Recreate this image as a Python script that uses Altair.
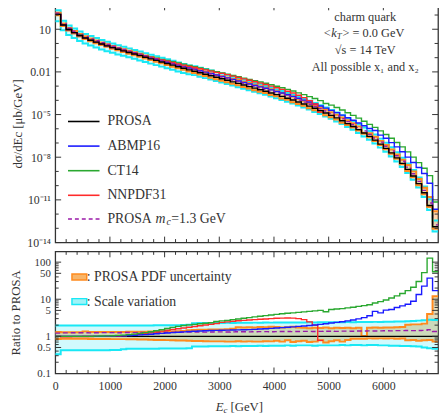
import altair as alt
import pandas as pd

FONT = "Liberation Serif"
TXT = "#333333"

# ---------------- data (100 GeV bins from 0 to 7000 GeV) ----------------
edges = list(range(0, 7001, 100))

# PROSA central dsigma/dE_c [mub/GeV], one value per bin
prosa = [112, 20, 9.5, 5.8, 3.6, 2.4, 1.7, 1.23, 0.91, 0.68,
         0.51, 0.39, 0.30, 0.23, 0.18, 0.14, 0.107, 0.083, 0.065, 0.050,
         0.039, 0.030, 0.023, 0.018, 0.014, 0.0112, 8.7e-3, 6.9e-3, 5.4e-3, 4.2e-3,
         3.3e-3, 2.6e-3, 2.0e-3, 1.55e-3, 1.2e-3, 9.3e-4, 7.2e-4, 5.6e-4, 4.4e-4, 3.3e-4,
         2.5e-4, 1.9e-4, 1.4e-4, 1.05e-4, 7.6e-5, 5.5e-5, 3.9e-5, 2.75e-5, 1.9e-5, 1.3e-5,
         8.7e-6, 5.8e-6, 3.7e-6, 2.3e-6, 1.45e-6, 8.7e-7, 5.1e-7, 2.9e-7, 1.6e-7, 8.3e-8,
         4.2e-8, 2.0e-8, 8.9e-9, 3.7e-9, 1.4e-9, 4.8e-10, 1.4e-10, 3.2e-11, 4.0e-12, 1.3e-13]

# ratios to PROSA, per bin
r_prosa = [1.0] * 70
r_abmp = [1.0, 1.0, 1.0, 1.0, 1.0, 1.0, 1.0, 1.0, 1.0, 1.01,
          1.02, 1.03, 1.04, 1.05, 1.07, 1.09, 1.11, 1.14, 1.17, 1.2,
          1.23, 1.26, 1.29, 1.32, 1.35, 1.37, 1.39, 1.41, 1.43, 1.45,
          1.46, 1.47, 1.48, 1.49, 1.5, 1.52, 1.54, 1.57, 1.6, 1.64,
          1.68, 1.72, 1.76, 1.8, 1.85, 1.9, 1.96, 2.02, 2.1, 2.18,
          2.28, 2.38, 2.48, 2.6, 2.75, 2.95, 3.2, 3.6, 4.7, 4.3,
          5.1, 5.3, 6.0, 6.6, 7.3, 8.8, 13.4, 22.5, 37, 17]
r_ct14 = [1.0, 1.0, 1.0, 1.0, 1.0, 1.0, 1.0, 1.01, 1.02, 1.03,
          1.04, 1.06, 1.08, 1.11, 1.15, 1.2, 1.26, 1.33, 1.41, 1.5,
          1.62, 1.74, 1.86, 1.95, 2.03, 2.1, 2.18, 2.26, 2.34, 2.5,
          2.6, 2.7, 2.82, 2.94, 3.06, 3.2, 3.34, 3.48, 3.62, 3.76,
          3.9, 4.05, 4.18, 4.3, 4.42, 4.55, 4.7, 4.85, 5.0, 4.6,
          5.3, 5.45, 5.6, 5.85, 6.1, 6.4, 6.7, 7.1, 7.9, 8.6,
          9.5, 10.8, 12.3, 14.3, 17, 21, 30, 52, 128, 55]
r_nnpdf = [1.0, 0.97, 0.97, 0.98, 0.98, 0.99, 0.99, 1.0, 1.0, 1.0,
           1.01, 1.02, 1.04, 1.06, 1.09, 1.13, 1.18, 1.24, 1.31, 1.38,
           1.46, 1.53, 1.6, 1.68, 1.76, 1.84, 1.93, 2.02, 2.12, 2.22,
           2.38, 2.46, 2.54, 2.62, 2.7, 2.76, 2.82, 2.88, 2.94, 3.0,
           3.06, 3.1, 3.12, 3.1, 3.0, 2.82, 2.45, 2.0, 0.78]
r_mc13 = [1.22, 1.24, 1.24, 1.25, 1.25, 1.25, 1.24, 1.25, 1.26, 1.26,
          1.26, 1.25, 1.27, 1.27, 1.26, 1.28, 1.28, 1.27, 1.29, 1.29,
          1.29, 1.3, 1.3, 1.29, 1.3, 1.31, 1.31, 1.3, 1.31, 1.32,
          1.32, 1.31, 1.32, 1.33, 1.33, 1.32, 1.33, 1.34, 1.34, 1.33,
          1.34, 1.35, 1.35, 1.34, 1.35, 1.36, 1.36, 1.35, 1.36, 1.37,
          1.37, 1.36, 1.38, 1.38, 1.37, 1.39, 1.39, 1.4, 1.39, 1.4,
          1.41, 1.4, 1.42, 1.42, 1.43, 1.42, 1.44, 1.45, 1.5, 1.35]
pdf_hi = [1.3, 1.28, 1.28, 1.28, 1.28, 1.36, 1.3, 1.3, 1.3, 1.3,
          1.3, 1.31, 1.31, 1.32, 1.32, 1.33, 1.33, 1.34, 1.34, 1.35,
          1.35, 1.36, 1.37, 1.4, 1.45, 1.48, 1.5, 1.5, 1.52, 1.52,
          1.52, 1.55, 1.6, 1.75, 1.72, 1.76, 1.74, 1.78, 1.76, 1.8,
          1.78, 1.74, 1.76, 1.8, 1.72, 1.7, 1.66, 1.7, 1.68, 1.72,
          1.66, 1.7, 1.68, 1.7, 1.66, 1.7, 1.02, 1.7, 1.72, 1.7,
          1.74, 1.72, 1.76, 1.78, 2.05, 2.1, 2.1, 2.2, 4.0, 12.0]
pdf_lo = [0.85, 0.86, 0.86, 0.86, 0.86, 0.86, 0.85, 0.85, 0.85, 0.85,
          0.84, 0.84, 0.84, 0.83, 0.83, 0.82, 0.82, 0.81, 0.8, 0.8,
          0.79, 0.78, 0.77, 0.77, 0.76, 0.75, 0.75, 0.74, 0.73, 0.73,
          0.73, 0.72, 0.72, 0.74, 0.72, 0.73, 0.72, 0.72, 0.74, 0.73,
          0.76, 0.72, 0.78, 0.7, 0.74, 0.76, 0.7, 0.72, 0.78, 0.68,
          0.74, 0.78, 0.72, 0.8, 0.86, 0.86, 0.86, 0.88, 0.87, 0.88,
          0.87, 0.88, 0.86, 0.87, 0.78, 0.8, 0.76, 0.78, 0.8, 0.72]
scale_hi = [1.95, 1.95, 1.95, 1.95, 1.95, 1.96, 1.95, 1.95, 1.96, 1.95,
            1.95, 1.96, 1.95, 1.96, 1.96, 1.97, 1.96, 1.97, 1.98, 1.98,
            1.98, 2.0, 2.0, 2.02, 2.05, 2.25, 2.28, 2.28, 2.3, 2.3,
            2.3, 2.32, 2.3, 2.32, 2.33, 2.32, 2.34, 2.33, 2.35, 2.34,
            2.35, 2.36, 2.35, 2.36, 2.37, 2.36, 2.38, 2.37, 2.38, 2.4,
            2.38, 2.4, 2.4, 2.42, 2.4, 2.42, 2.44, 2.42, 2.45, 2.44,
            2.46, 2.48, 2.5, 2.52, 2.55, 2.6, 2.65, 2.7, 2.8, 2.75]
scale_lo = [0.33, 0.42, 0.42, 0.42, 0.42, 0.42, 0.42, 0.42, 0.42, 0.42,
            0.43, 0.43, 0.45, 0.46, 0.46, 0.46, 0.46, 0.46, 0.46, 0.47,
            0.47, 0.47, 0.47, 0.47, 0.48, 0.53, 0.53, 0.53, 0.54, 0.54,
            0.54, 0.54, 0.55, 0.54, 0.55, 0.55, 0.55, 0.56, 0.55, 0.56,
            0.56, 0.56, 0.57, 0.56, 0.57, 0.57, 0.57, 0.56, 0.57, 0.57,
            0.57, 0.57, 0.58, 0.57, 0.58, 0.58, 0.57, 0.58, 0.58, 0.57,
            0.57, 0.56, 0.56, 0.55, 0.55, 0.54, 0.53, 0.5, 0.48, 0.46]

# axis tick values
x_major = [1000, 2000, 3000, 4000, 5000, 6000]
x_minor = [v for v in range(200, 7000, 200) if v % 1000 != 0]
x_labels = [0, 1000, 2000, 3000, 4000, 5000, 6000]
y1_major = [1e-14, 1e-11, 1e-8, 1e-5, 0.01, 10]
y1_minor = [1e-13, 1e-12, 1e-10, 1e-9, 1e-7, 1e-6, 1e-4, 1e-3, 0.1, 1, 100]
y2_major = [0.5, 1, 5, 10, 50, 100]
y2_minor = [0.2, 0.3, 0.4, 0.6, 0.7, 0.8, 0.9, 2, 3, 4, 6, 7, 8, 9,
            20, 30, 40, 60, 70, 80, 90]

# ---------------- helpers ----------------
def step_line(vals, base=None):
    n = len(vals)
    rows = []
    for i in range(n + 1):
        j = min(i, n - 1)
        v = vals[j] * (base[j] if base else 1.0)
        rows.append({"E": edges[i], "v": v})
    return pd.DataFrame(rows)


def step_band(lo, hi, base=None):
    n = len(lo)
    rows = []
    for i in range(n + 1):
        j = min(i, n - 1)
        b = base[j] if base else 1.0
        rows.append({"E": edges[i], "lo": lo[j] * b, "hi": hi[j] * b})
    return pd.DataFrame(rows)


W, H1, H2 = 389, 242, 124
xsc = alt.Scale(domain=[0, 7000], nice=False, zero=False)
ysc1 = alt.Scale(type="log", domain=[1e-14, 560], nice=False)
ysc2 = alt.Scale(type="log", domain=[0.1, 195], nice=False)

ax_y1 = alt.Axis(values=y1_major, ticks=False, tickSize=0, domain=False, grid=False,
                 labelExpr="datum.value > 1 ? '10' : datum.value > 0.001 ? '0.01' : "
                           "datum.value > 1e-6 ? '10⁻⁵' : datum.value > 1e-9 ? '10⁻⁸' : "
                           "datum.value > 1e-12 ? '10⁻¹¹' : '10⁻¹⁴'",
                 labelPadding=5, labelFontSize=12, labelOverlap=False,
                 title="dσ/dEc [μb/GeV]", titleFontSize=13, titleFontWeight="normal",
                 titlePadding=2)
ax_y2 = alt.Axis(values=[0.1] + y2_major, ticks=False, tickSize=0, domain=False, grid=False,
                 labelExpr="datum.value < 1 ? format(datum.value, '.1f') : format(datum.value, 'd')",
                 labelPadding=5, labelFontSize=11, labelOverlap=False,
                 title="Ratio to PROSA", titleFontSize=13, titleFontWeight="normal",
                 titlePadding=12)
ax_x2 = alt.Axis(values=x_labels, format="d", ticks=False, tickSize=0, domain=False, grid=False,
                 labelPadding=7, labelFontSize=12, labelFlush=False, title="")


def X(f, axis=None):
    return alt.X(f"{f}:Q", scale=xsc, axis=axis)


one = pd.DataFrame({"d": [0]})


def txt(text, x, y, size=14, style="normal", align="left"):
    return alt.Chart(one).mark_text(text=text, align=align, baseline="middle", font=FONT,
                                    fontSize=size, fontStyle=style, color=TXT).encode(
        x=alt.value(x), y=alt.value(y))


def ticks(xscale_axis, yenc_fn, H, ymaj, ymin):
    out = []
    for vals, L in ((x_major, 6), (x_minor, 3.5)):
        df = pd.DataFrame({"t": vals})
        out.append(alt.Chart(df).mark_rule(color=TXT, strokeWidth=1).encode(
            x=X("t", xscale_axis), y=alt.value(H), y2=alt.value(H - L)))
        out.append(alt.Chart(df).mark_rule(color=TXT, strokeWidth=1).encode(
            x=X("t", xscale_axis), y=alt.value(0), y2=alt.value(L)))
    for vals, L in ((ymaj, 6), (ymin, 3.5)):
        df = pd.DataFrame({"t": vals})
        out.append(alt.Chart(df).mark_rule(color=TXT, strokeWidth=1).encode(
            y=yenc_fn("t"), x=alt.value(0), x2=alt.value(L)))
        out.append(alt.Chart(df).mark_rule(color=TXT, strokeWidth=1).encode(
            y=yenc_fn("t"), x=alt.value(W), x2=alt.value(W - L)))
    return out


CYAN = "#19e8f5"
ORANGE = "#ff8a1e"
COLORS = {"PROSA": "#000000", "ABMP16": "#1a1aff", "CT14": "#2aa830",
          "NNPDF31": "#ff2a2a", "mc": "#9a1aa8"}

# ---------------- top panel ----------------
def Y1(f):
    return alt.Y(f"{f}:Q", scale=ysc1, axis=ax_y1)


top_layers = []
cb = step_band(scale_lo, scale_hi, prosa)
ob = step_band(pdf_lo, pdf_hi, prosa)
top_layers.append(alt.Chart(cb).mark_area(interpolate="step-after", color=CYAN, opacity=0.18, clip=True)
                  .encode(x=X("E"), y=Y1("lo"), y2="hi"))
top_layers.append(alt.Chart(ob).mark_area(interpolate="step-after", color=ORANGE, opacity=0.35, clip=True)
                  .encode(x=X("E"), y=Y1("lo"), y2="hi"))
for f in ("lo", "hi"):
    top_layers.append(alt.Chart(cb).mark_line(interpolate="step-after", color=CYAN, strokeWidth=2, clip=True)
                      .encode(x=X("E"), y=Y1(f)))
for f in ("lo", "hi"):
    top_layers.append(alt.Chart(ob).mark_line(interpolate="step-after", color=ORANGE, strokeWidth=2, clip=True)
                      .encode(x=X("E"), y=Y1(f)))
for vals, c, dash in ((r_ct14, "CT14", None), (r_abmp, "ABMP16", None), (r_nnpdf, "NNPDF31", None),
                      (r_mc13, "mc", [4, 3]), (r_prosa, "PROSA", None)):
    kw = dict(interpolate="step-after", color=COLORS[c], strokeWidth=1.4, clip=True)
    if dash:
        kw["strokeDash"] = dash
    top_layers.append(alt.Chart(step_line(vals, prosa)).mark_line(**kw)
                      .encode(x=X("E"), y=Y1("v")))

top_layers += ticks(None, Y1, H1, y1_major, y1_minor)

# legend (top panel)
leg = [("PROSA", "PROSA", None), ("ABMP16", "ABMP16", None), ("CT14", "CT14", None),
       ("NNPDF31", "NNPDF31", None), ("PROSA", "mc", [4, 3])]
leg_y = [119, 144, 169, 194, 218]
for (lab, c, dash), yy in zip(leg, leg_y):
    kw = dict(color=COLORS[c], strokeWidth=1.6)
    if dash:
        kw["strokeDash"] = dash
    top_layers.append(alt.Chart(one).mark_rule(**kw).encode(
        x=alt.value(13), x2=alt.value(45), y=alt.value(yy)))
    top_layers.append(txt(lab, 53, yy))
yy = leg_y[-1]
top_layers.append(txt("m", 102, yy, style="italic"))
top_layers.append(txt("c", 113, yy + 3, size=10, style="italic"))
top_layers.append(txt("=1.3 GeV", 118, yy))

# annotation (top right)
for t, yy in (("charm quark", 13), ("√s  = 14 TeV", 46), ("All possible x₁ and x₂", 64)):
    top_layers.append(txt(t, 315, yy, size=12.5, align="center"))
top_layers.append(txt("<k", 272, 29, size=12.5, style="italic"))
top_layers.append(txt("T", 286, 32, size=9, style="italic"))
top_layers.append(txt(">  = 0.0 GeV", 292, 29, size=12.5))

top = alt.layer(*top_layers).properties(width=W, height=H1)

# ---------------- bottom panel ----------------
def Y2(f):
    return alt.Y(f"{f}:Q", scale=ysc2, axis=ax_y2)


def X2(f):
    return X(f, ax_x2)


bot_layers = []
cb2 = step_band(scale_lo, scale_hi)
ob2 = step_band(pdf_lo, pdf_hi)
bot_layers.append(alt.Chart(cb2).mark_area(interpolate="step-after", color=CYAN, opacity=0.2, clip=True)
                  .encode(x=X2("E"), y=Y2("lo"), y2="hi"))
bot_layers.append(alt.Chart(ob2).mark_area(interpolate="step-after", color="#c8b878", opacity=0.5, clip=True)
                  .encode(x=X2("E"), y=Y2("lo"), y2="hi"))
for f in ("lo", "hi"):
    bot_layers.append(alt.Chart(cb2).mark_line(interpolate="step-after", color=CYAN, strokeWidth=2, clip=True)
                      .encode(x=X2("E"), y=Y2(f)))
for f in ("lo", "hi"):
    bot_layers.append(alt.Chart(ob2).mark_line(interpolate="step-after", color=ORANGE, strokeWidth=2, clip=True)
                      .encode(x=X2("E"), y=Y2(f)))
for vals, c, dash in ((r_prosa, "PROSA", None), (r_mc13, "mc", [5, 3]), (r_nnpdf, "NNPDF31", None),
                      (r_abmp, "ABMP16", None), (r_ct14, "CT14", None)):
    kw = dict(interpolate="step-after", color=COLORS[c], strokeWidth=1.4, clip=True)
    if dash:
        kw["strokeDash"] = dash
    bot_layers.append(alt.Chart(step_line(vals)).mark_line(**kw).encode(x=X2("E"), y=Y2("v")))

bot_layers += ticks(ax_x2, Y2, H2, y2_major, y2_minor)

# legend (bottom panel)
for (lab, fill, stroke, yy) in ((": PROSA PDF uncertainty", "#f7b56a", ORANGE, 26),
                                (": Scale variation", "#9ff3f8", CYAN, 51)):
    bot_layers.append(alt.Chart(one).mark_rect(fill=fill, stroke=stroke, strokeWidth=1.5).encode(
        x=alt.value(17), x2=alt.value(32), y=alt.value(yy - 3), y2=alt.value(yy + 3)))
    bot_layers.append(txt(lab, 32, yy))

# x-axis title E_c [GeV]
bot_layers.append(txt("E", 163, H2 + 34, size=13, style="italic"))
bot_layers.append(txt("c", 171, H2 + 37, size=9, style="italic"))
bot_layers.append(txt("[GeV]", 178, H2 + 34, size=13))

bottom = alt.layer(*bot_layers).properties(width=W, height=H2)

chart = (alt.vconcat(top, bottom, spacing=0)
         .properties(padding={"left": 0, "top": -9, "right": 0, "bottom": 0})
         .configure(font=FONT)
         .configure_view(stroke=TXT, strokeWidth=1.3)
         .configure_axis(labelFont=FONT, titleFont=FONT, labelColor=TXT, titleColor=TXT))

chart.save("out.html", embed_options={"renderer": "svg", "actions": False})
